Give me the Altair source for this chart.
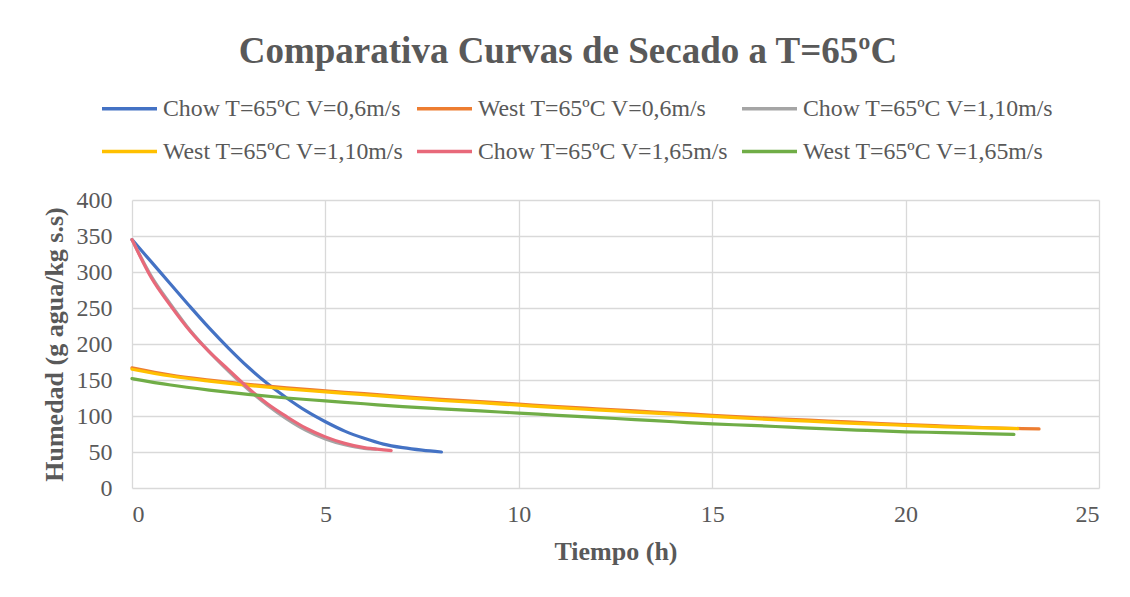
import altair as alt
import pandas as pd

series_names = [
    "Chow T=65ºC V=0,6m/s",
    "West T=65ºC V=0,6m/s",
    "Chow T=65ºC V=1,10m/s",
    "West T=65ºC V=1,10m/s",
    "Chow T=65ºC V=1,65m/s",
    "West T=65ºC V=1,65m/s",
]
series_colors = ["#4472C4", "#ED7D31", "#A5A5A5", "#FFC000", "#E8697A", "#70AD47"]

# Chow V=0,6
chow06_t = [0, 0.5, 1, 1.5, 2, 2.5, 3, 3.5, 4, 4.5, 5, 5.5, 6, 6.5, 7, 7.5, 8]
chow06_h = [345, 314, 283, 252, 222, 194, 168, 145, 125, 107, 92, 79, 69, 61, 56, 52.5, 50]

# West V=0,6
west06_t = [0, 1, 2, 3, 4, 5, 6, 7, 8, 9, 10, 11, 12, 13, 14, 15, 16, 17, 18, 19, 20, 21, 22, 23, 23.45]
west06_h = [167, 157, 150, 144, 139, 135, 131, 127, 123, 120, 116.5, 113, 110, 107, 104, 101, 98, 95.5, 93, 90.5, 88, 86, 84, 82.5, 82]

# Chow V=1,10
chow110_t = [0, 0.5, 1, 1.5, 2, 2.5, 3, 3.5, 4, 4.5, 5, 5.5, 6, 6.3]
chow110_h = [345, 294, 255, 219, 189, 162, 137, 115, 96, 80, 68, 60, 55, 54]

# West V=1,10
west110_t = [0, 1, 2, 3, 4, 5, 6, 7, 8, 9, 10, 11, 12, 13, 14, 15, 16, 17, 18, 19, 20, 21, 22, 22.9]
west110_h = [165, 155.5, 148.5, 142.5, 137.5, 133.5, 129.5, 125.5, 121.5, 118.5, 115, 111.5, 108.5, 105.5, 102.5, 99.5, 96.5, 94, 91.5, 89, 87, 85, 83.5, 82.5]

# Chow V=1,65
chow165_t = [0, 0.5, 1, 1.5, 2, 2.5, 3, 3.5, 4, 4.5, 5, 5.5, 6, 6.5, 6.7]
chow165_h = [345, 292, 253, 218, 189, 164, 139, 117, 99, 83, 71, 62, 56, 53, 52]

# West V=1,65
west165_t = [0, 1, 2, 3, 4, 5, 6, 7, 8, 9, 10, 11, 12, 13, 14, 15, 16, 17, 18, 19, 20, 21, 22, 22.8]
west165_h = [152, 143, 136, 130, 125, 121, 117, 113, 110, 107, 104, 101, 98, 95, 92, 89, 87, 84.5, 82, 80, 78, 77, 75.5, 74.5]

all_t = [chow06_t, west06_t, chow110_t, west110_t, chow165_t, west165_t]
all_h = [chow06_h, west06_h, chow110_h, west110_h, chow165_h, west165_h]

rows = []
for name, ts, hs in zip(series_names, all_t, all_h):
    for t, h in zip(ts, hs):
        rows.append({"serie": name, "t": t, "h": h})
df = pd.DataFrame(rows)

FONT = "Liberation Serif"
GREY = "#595959"

color = alt.Color(
    "serie:N",
    scale=alt.Scale(domain=series_names, range=series_colors),
    sort=series_names,
    legend=alt.Legend(
        title=None,
        orient="none",
        legendX=-32,
        legendY=-121,
        direction="horizontal",
        columns=3,
        columnPadding=6,
        rowPadding=1,
        symbolType="stroke",
        symbolSize=3025,
        symbolStrokeWidth=3.5,
        labelFont=FONT,
        labelFontSize=23.8,
        labelColor=GREY,
        labelLimit=400,
        labelOffset=4,
    ),
)

x = alt.X(
    "t:Q",
    scale=alt.Scale(domain=[0, 25], nice=False),
    axis=alt.Axis(values=[0, 5, 10, 15, 20, 25], title="Tiempo (h)"),
)
y = alt.Y(
    "h:Q",
    scale=alt.Scale(domain=[0, 400], nice=False),
    axis=alt.Axis(values=list(range(0, 401, 50)), title="Humedad (g agua/kg s.s)"),
)

layers = []
for name in series_names:
    layers.append(
        alt.Chart(df)
        .transform_filter(alt.datum.serie == name)
        .mark_line(strokeWidth=3.2, interpolate="monotone", strokeCap="round")
        .encode(x=x, y=y, color=color, order="t:Q")
    )

chart = (
    alt.layer(*layers)
    .properties(
        width=967,
        height=288,
        title=alt.Title(
            "Comparativa Curvas de Secado a T=65ºC",
            font=FONT,
            fontSize=37,
            fontWeight="bold",
            color=GREY,
            anchor="middle",
            orient="none",
            frame="group",
            dx=436,
            dy=-148,
            baseline="middle",
        ),
        autosize=alt.AutoSizeParams(type="none"),
        padding={"left": 132, "top": 200, "right": 31, "bottom": 109},
    )
    .configure(background="white")
    .configure_view(stroke=None)
    .configure_axis(
        grid=True,
        gridColor="#D9D9D9",
        gridWidth=1.3,
        domain=False,
        ticks=False,
        labelFont=FONT,
        labelFontSize=24,
        labelColor=GREY,
        titleFont=FONT,
        titleFontSize=26,
        titleFontWeight="bold",
        titleColor=GREY,
    )
    .configure_axisX(labelPadding=14, titlePadding=12)
    .configure_axisY(labelPadding=20, titlePadding=9)
)

chart.save("out.html", embed_options={"renderer": "svg", "actions": False})
